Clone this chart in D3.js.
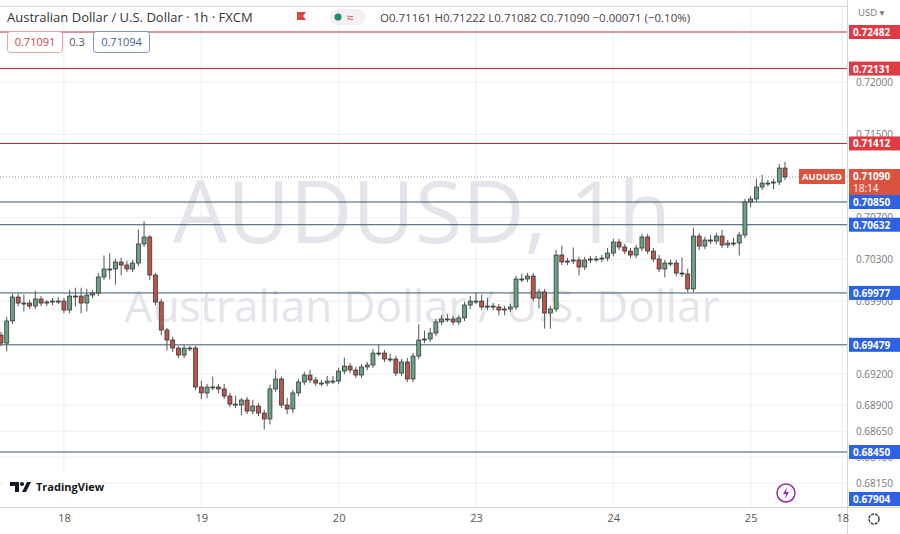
<!DOCTYPE html>
<html><head><meta charset="utf-8">
<script src="https://cdn.jsdelivr.net/npm/d3@7"></script>
<style>body{margin:0;background:#fff;font-family:"Open Sans","DejaVu Sans",sans-serif}</style>
</head><body><svg id="c" width="900" height="534"></svg>
<script>
const firstOpen = 0.69573;
const closes = [0.69496,0.69708,0.69938,0.6988,0.6988,0.69851,0.69919,0.6988,0.6989,0.69899,0.69899,0.69813,0.69947,0.69947,0.6988,0.69957,0.69976,0.7013,0.70207,0.70207,0.70274,0.70245,0.70207,0.70264,0.70447,0.70514,0.70149,0.6989,0.69621,0.69525,0.69448,0.69381,0.69448,0.69448,
0.69074,0.69017,0.69074,0.69074,0.69055,0.68987,0.6891,0.68901,0.68949,0.68843,0.68891,0.68824,0.68767,0.69055,0.69151,0.68901,0.68863,0.69017,0.69122,0.69189,0.69141,0.69112,0.69112,0.69131,0.69131,0.69227,0.69275,
0.69237,0.69189,0.69266,0.69285,0.694,0.694,0.69343,0.69343,0.69208,0.69314,0.69151,0.69371,0.69525,0.69535,0.69592,0.69698,0.69727,0.69727,0.69698,0.69737,0.69861,0.69899,0.69899,0.69842,0.69851,0.69842,0.69813,0.69823,0.69842,0.70111,0.70111,0.70139,0.69928,0.69986,0.69784,0.69823,0.70341,
0.70274,0.70283,0.70293,0.70226,0.70293,0.70303,0.70303,0.70312,0.7036,0.70466,0.70418,0.70379,0.70341,0.70408,0.70514,0.70379,0.70303,0.70207,0.70264,0.70264,0.70168,0.70159,0.70015,0.70523,0.70427,0.70485,0.70475,0.70523,0.70437,0.70456,0.70456,0.70533,0.7085,0.70879,0.70994,0.71032,0.71032,0.71042,0.71176,0.7109];
// wick lengths in pips above / below body
const wickUp = [3,4,3,3,8,3,8,3,2,3, 4,3,6,8,8,6,3,4,13,15, 3,4,4,3,14,15,2,2,3,2, 3,2,3,2,2,6,3,10,3,5, 3,8,2,3,6,3,3,4,9,2, 7,3,3,3,5,3,3,5,5,3, 8,3,3,3,3,4,8,3,5,3, 3,4,3,15,8,5,3,4,5,3, 3,3,5,8,6,8,3,3,3,3, 3,5,3,3,3,3,3,5,9,3, 12,3,3,3,3,3,5,3,3,3, 3,3,3,3,3,4,3,3,3,15, 5,8,3,3,5,3,6,3,5,3, 3,3,8,8,3,3,4,6];
const wickDn = [3,8,3,3,8,3,3,3,3,3, 3,3,3,10,10,8,3,3,3,10, 15,10,3,3,3,3,5,3,5,10, 4,3,3,3,3,6,5,3,4,3, 3,3,10,3,3,3,10,5,3,3, 5,4,3,3,3,3,3,3,3,3, 3,3,3,3,3,3,3,3,3,3, 3,3,3,3,3,3,3,3,3,3, 3,3,4,3,3,3,3,5,5,3, 3,3,3,3,10,15,15,3,3,3, 3,8,3,3,3,3,3,3,3,3, 3,3,3,3,3,3,8,3,3,3, 3,3,4,3,3,3,3,3,3,12, 3,5,3,3,3,6,3,3];
const dayLabels = ["18","19","20","23","24","25","18"];
const dayIndex = [11,35,59,83,107,131,147];
const redLevels = [0.72482,0.72131,0.71412];
const blueLevels = [0.70850,0.70632,0.69977,0.69479,0.68450,0.67904];
const axisTicks = [0.72,0.715,0.707,0.703,0.699,0.692,0.689,0.6865,0.684,0.6815];
const lastPrice = 0.71090;

const svg = d3.select("#c");
const W=900,H=534, paneR=847, paneB=507, paneT=8;
const y = d3.scaleLinear().domain([0.72482,0.6845]).range([32,452]);
const x = d3.scaleLinear().domain([0,137]).range([1,785]);
const fmt = d3.format(".5f");
const pane = svg.append("g");
svg.append("defs").append("clipPath").attr("id","pc").append("rect").attr("x",0).attr("y",paneT).attr("width",paneR).attr("height",paneB-paneT);
const g = pane.append("g").attr("clip-path","url(#pc)");

// grid
g.selectAll(".hg").data(axisTicks).join("line").attr("x1",0).attr("x2",paneR).attr("y1",d=>y(d)).attr("y2",d=>y(d)).attr("stroke","#eceef2");
g.selectAll(".vg").data(dayIndex).join("line").attr("x1",d=>x(d)).attr("x2",d=>x(d)).attr("y1",paneT).attr("y2",paneB).attr("stroke","#eceef2");

// watermark
g.append("text").attr("x",422).attr("y",243).attr("text-anchor","middle").attr("font-size",86).attr("fill","#e3e5ea").text("AUDUSD, 1h");
g.append("text").attr("x",422).attr("y",322).attr("text-anchor","middle").attr("font-size",44).attr("fill","#e3e5ea").text("Australian Dollar / U.S. Dollar");

// level lines
g.selectAll(".rl").data(redLevels).join("line").attr("x1",0).attr("x2",paneR).attr("y1",d=>y(d)).attr("y2",d=>y(d)).attr("stroke","#a8323a").attr("stroke-width",1);
g.selectAll(".bl").data(blueLevels).join("line").attr("x1",0).attr("x2",paneR).attr("y1",d=>y(d)).attr("y2",d=>y(d)).attr("stroke","#3b5673").attr("stroke-width",1);
g.append("line").attr("x1",0).attr("x2",paneR).attr("y1",y(lastPrice)).attr("y2",y(lastPrice)).attr("stroke","#999").attr("stroke-dasharray","1,2");

// candles
const data = closes.map((c,i)=>{const o=i?closes[i-1]:firstOpen;return {i,o,c,h:Math.max(o,c)+wickUp[i]*1e-4,l:Math.min(o,c)-wickDn[i]*1e-4};});
const cg = g.append("g");
cg.selectAll(".w").data(data).join("line").attr("x1",d=>x(d.i)).attr("x2",d=>x(d.i)).attr("y1",d=>y(d.h)).attr("y2",d=>y(d.l)).attr("stroke","#555").attr("stroke-width",1);
cg.selectAll(".b").data(data).join("rect").attr("x",d=>x(d.i)-2).attr("width",4)
 .attr("y",d=>y(Math.max(d.o,d.c))).attr("height",d=>Math.max(1,Math.abs(y(d.o)-y(d.c))))
 .attr("fill",d=>d.c>=d.o?"#6aa184":"#b9574d").attr("stroke","#2b2b2b").attr("stroke-width",0.7);

// axes frame
svg.append("line").attr("x1",paneR+0.5).attr("x2",paneR+0.5).attr("y1",0).attr("y2",H).attr("stroke","#d6d8dd");
svg.append("line").attr("x1",0).attr("x2",W).attr("y1",paneB+0.5).attr("y2",paneB+0.5).attr("stroke","#d6d8dd");
svg.append("line").attr("x1",0).attr("x2",paneR).attr("y1",6.5).attr("y2",6.5).attr("stroke","#d6d8dd");

// y axis ticks
const ya = svg.append("g").attr("transform",`translate(${paneR},0)`).call(d3.axisRight(y).tickValues(axisTicks).tickFormat(fmt).tickSize(0).tickPadding(9));
ya.select(".domain").remove();
ya.selectAll("text").attr("font-size",10).attr("fill","#777").attr("font-family","Open Sans, sans-serif");
// x axis
const xa = svg.append("g").attr("transform",`translate(0,${paneB})`).call(d3.axisBottom(x).tickValues(dayIndex).tickFormat((d,i)=>dayLabels[i]).tickSize(0).tickPadding(7));
xa.select(".domain").remove();
xa.selectAll("text").attr("font-size",11).attr("fill","#555").attr("font-family","Open Sans, sans-serif");

// price labels
function plabel(v,col,ytop){
  const yy = ytop!==undefined?ytop:Math.min(y(v),paneB-8);
  svg.append("rect").attr("x",paneR+2).attr("y",yy-7).attr("width",W-paneR-2).attr("height",14).attr("fill",col);
  svg.append("text").attr("x",paneR+6).attr("y",yy+4).attr("font-size",10).attr("font-weight","bold").attr("fill","#fff").text(fmt(v));
}
redLevels.forEach(v=>plabel(v,"#e13a44"));
blueLevels.forEach(v=>plabel(v,"#2b62e6"));
// last price
const ly=y(lastPrice);
svg.append("rect").attr("x",paneR+2).attr("y",ly-8).attr("width",W-paneR-2).attr("height",26).attr("fill","#d9533f");
svg.append("text").attr("x",paneR+6).attr("y",ly+3).attr("font-size",10).attr("font-weight","bold").attr("fill","#fff").text(fmt(lastPrice));
svg.append("text").attr("x",paneR+6).attr("y",ly+15).attr("font-size",10).attr("fill","#fff").text("18:14");
svg.append("rect").attr("x",799).attr("y",ly-8).attr("width",46).attr("height",15).attr("fill","#d9533f");
svg.append("text").attr("x",822).attr("y",ly+3).attr("text-anchor","middle").attr("font-size",9.5).attr("font-weight","bold").attr("fill","#fff").text("AUDUSD");

svg.append("text").attr("x",858).attr("y",16).attr("font-size",9.5).attr("fill","#777").text("USD ▾");

// header
svg.append("text").attr("x",7).attr("y",22).attr("font-size",13).attr("fill","#333").text("Australian Dollar / U.S. Dollar · 1h · FXCM");
svg.append("path").attr("d","M297,12 h9 l-3,4 l3,4 h-9 z").attr("fill","#e0453e");
svg.append("rect").attr("x",330).attr("y",9).attr("width",36).attr("height",16).attr("rx",8).attr("fill","#f5eef3");
svg.append("circle").attr("cx",338).attr("cy",17).attr("r",3.5).attr("fill","#1f8a70");
svg.append("text").attr("x",347).attr("y",22).attr("font-size",12).attr("fill","#d9436f").text("≈");
svg.append("text").attr("x",380).attr("y",22).attr("font-size",11.5).attr("fill","#444").text("O0.71161  H0.71222  L0.71082  C0.71090  −0.00071 (−0.10%)");
svg.append("rect").attr("x",7.5).attr("y",31.5).attr("width",55).attr("height",21).attr("rx",3).attr("fill","#fff").attr("stroke","#e8a3a6");
svg.append("text").attr("x",35).attr("y",46).attr("text-anchor","middle").attr("font-size",11).attr("fill","#c9444c").text("0.71091");
svg.append("text").attr("x",77).attr("y",46).attr("text-anchor","middle").attr("font-size",11).attr("fill","#555").text("0.3");
svg.append("rect").attr("x",93.5).attr("y",31.5).attr("width",56).attr("height",21).attr("rx",3).attr("fill","#fff").attr("stroke","#7d95c2");
svg.append("text").attr("x",121.5).attr("y",46).attr("text-anchor","middle").attr("font-size",11).attr("fill","#3d5f9e").text("0.71094");

// logo
svg.append("rect").attr("x",4).attr("y",472).attr("width",100).attr("height",30).attr("rx",15).attr("fill","#fff");
svg.append("path").attr("d","M10,482 h9 v10 h-4 v-6 h-5 z M22,492 l5,-10 h4 l-5,10 z").attr("fill","#131722");
svg.append("circle").attr("cx",22).attr("cy",484).attr("r",2).attr("fill","#131722");
svg.append("text").attr("x",36).attr("y",491).attr("font-size",11).attr("font-weight","bold").attr("fill","#131722").text("TradingView");
svg.append("circle").attr("cx",786).attr("cy",493).attr("r",9).attr("fill","#fff").attr("stroke","#9c27b0").attr("stroke-width",1.5);
svg.append("path").attr("d","M787,487 l-4,7 h3 l-1,5 l4,-7 h-3 z").attr("fill","#9c27b0");
svg.append("circle").attr("cx",874).attr("cy",519).attr("r",5).attr("fill","none").attr("stroke","#444").attr("stroke-width",1.5).attr("stroke-dasharray","3,1");
</script></body></html>
